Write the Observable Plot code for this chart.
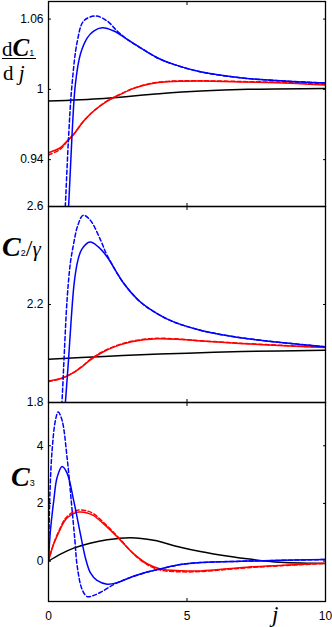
<!DOCTYPE html>
<html><head><meta charset="utf-8">
<script src="https://cdn.jsdelivr.net/npm/d3@7"></script>
<script src="https://cdn.jsdelivr.net/npm/@observablehq/plot@0.6"></script>
<style>
body{margin:0;background:#fff;}
#wrap{position:relative;width:332px;height:627px;overflow:hidden;background:#fff;}
.panel{position:absolute;left:0;}
.lab{position:absolute;font-family:"Liberation Serif","DejaVu Serif",serif;color:#000;white-space:nowrap;line-height:1;}
.cal{font-weight:bold;font-style:italic;}
.sub{font-family:"Liberation Sans",Arial,sans-serif;}
</style></head><body><div id="wrap"></div>
<script>
// ---- tick labels ----
const xTicks = [0, 5, 10];
const p1Ticks = [0.94, 1, 1.06];
const p2Ticks = [1.8, 2.2, 2.6];
const p3Ticks = [0, 2, 4];

// ---- panel 1: dC1/dj ----
const p1Black = [[0,0.990],[2,0.9922],[4,0.9962],[5.5,0.9985],[7.2,1.000],[10,1.0008]];
const p1Red = [[0,0.9459],[0.43,0.9502],[0.67,0.9559],[0.91,0.9616],[1.27,0.973],[1.63,0.9815],[2.12,0.99],[2.6,0.9957],[3.08,1.0008],[3.68,1.0048],[4.28,1.0065],[5.48,1.0071],[7.16,1.0062],[8.7,1.0052],[10,1.0037]];
const p1RedDash = [[0,0.944],[0.43,0.949],[0.67,0.9555],[0.91,0.9616],[1.27,0.973],[1.63,0.9815],[2.12,0.9902],[2.6,0.996],[3.08,1.001],[3.68,1.005],[4.28,1.0068],[5.48,1.0073],[7.16,1.0066],[8.7,1.0058],[10,1.0042]];
const p1Blue = [[0.5,0.80],[0.73,0.9018],[0.85,0.9616],[0.97,1.0043],[1.15,1.0299],[1.4,1.044],[1.63,1.0498],[1.94,1.0526],[2.36,1.0498],[2.84,1.0427],[3.32,1.0355],[3.92,1.027],[4.52,1.0213],[5.48,1.015],[6.92,1.0099],[8.5,1.0072],[10,1.0054]];
const p1BlueDash = [[0.4,0.80],[0.61,0.9018],[0.73,0.9616],[0.85,1.0043],[1.04,1.041],[1.27,1.0583],[1.7,1.0626],[2.12,1.0583],[2.48,1.0498],[2.84,1.0427],[3.32,1.0355],[3.92,1.027],[4.52,1.0213],[5.48,1.015],[6.92,1.0099],[8.5,1.0072],[10,1.0054]];

// ---- panel 2: C2/gamma ----
const p2Black = [[0,1.977],[2,1.988],[4,1.998],[5.5,2.003],[7,2.008],[10,2.013]];
const p2Red = [[0,1.888],[0.5,1.90],[0.9,1.922],[1.2,1.945],[1.5,1.973],[1.9,2.002],[2.4,2.028],[3.0,2.048],[3.9,2.06],[4.8,2.057],[5.5,2.051],[6.9,2.041],[8.5,2.032],[10,2.0245]];
const p2RedDash = [[0,1.886],[0.5,1.899],[0.9,1.922],[1.2,1.946],[1.5,1.975],[1.9,2.004],[2.4,2.03],[3.0,2.05],[3.9,2.062],[4.8,2.058],[5.5,2.052],[6.9,2.042],[8.5,2.033],[10,2.025]];
const p2Blue = [[0.45,1.55],[0.61,1.80],[0.72,1.97],[0.82,2.14],[0.93,2.29],[1.05,2.375],[1.2,2.425],[1.5,2.455],[1.8,2.435],[2.12,2.394],[2.72,2.286],[3.32,2.21],[3.92,2.163],[4.52,2.129],[5.48,2.095],[6.2,2.078],[7.65,2.054],[9.09,2.037],[10,2.027]];
const p2BlueDash = [[0.35,1.55],[0.49,1.81],[0.57,2.0],[0.67,2.218],[0.79,2.37],[0.91,2.449],[1.05,2.52],[1.25,2.564],[1.51,2.544],[1.88,2.463],[2.12,2.40],[2.72,2.286],[3.32,2.21],[3.92,2.163],[4.52,2.129],[5.48,2.095],[6.2,2.078],[7.65,2.054],[9.09,2.037],[10,2.027]];

// ---- panel 3: C3 ----
const p3Black = [[0,0],[0.45,0.25],[0.91,0.45],[1.5,0.62],[2.12,0.74],[2.96,0.81],[3.8,0.72],[4.76,0.48],[5.48,0.33],[5.96,0.25],[7.17,0.08],[8.37,-0.04],[9.33,-0.07],[10,-0.08]];
const p3Red = [[0,0],[0.19,0.6],[0.43,1.12],[0.6,1.42],[0.85,1.62],[1.09,1.70],[1.4,1.67],[1.63,1.58],[2.12,1.18],[2.6,0.72],[3.08,0.25],[3.56,-0.09],[4.04,-0.27],[4.76,-0.33],[5.5,-0.34],[7.16,-0.21],[10,-0.07]];
const p3RedDash = [[0,0],[0.19,0.62],[0.43,1.16],[0.6,1.47],[0.85,1.68],[1.09,1.77],[1.4,1.74],[1.63,1.64],[2.12,1.22],[2.6,0.74],[3.08,0.24],[3.56,-0.12],[4.04,-0.31],[4.76,-0.37],[5.5,-0.36],[7.16,-0.23],[10,-0.08]];
const p3Blue = [[0,0],[0.07,1.06],[0.19,2.1],[0.31,2.9],[0.49,3.28],[0.67,3.05],[0.91,2.1],[1.15,0.95],[1.35,0.05],[1.52,-0.42],[1.75,-0.67],[2.12,-0.8],[2.5,-0.74],[2.84,-0.61],[3.56,-0.38],[4.04,-0.27],[4.76,-0.12],[5.5,-0.05],[7.16,0.0],[10,0.055]];
const p3BlueDash = [[0,0],[0.05,2.3],[0.13,3.84],[0.25,4.88],[0.35,5.17],[0.49,4.88],[0.67,3.6],[0.83,2.0],[0.95,0.75],[1.04,-0.2],[1.22,-1.0],[1.4,-1.23],[1.6,-1.2],[1.88,-1.08],[2.36,-0.81],[2.84,-0.61],[3.56,-0.38],[4.04,-0.27],[4.76,-0.12],[5.5,-0.05],[7.16,0.0],[10,0.055]];

const BLUE = "#0000ff", RED = "#ff0000", BLACK = "#000000";
const SW = 1.5, DASH = "4,2.5";

function series(data, color, dashed) {
  return Plot.line(data, {x: d => d[0], y: d => d[1], stroke: color, strokeWidth: SW,
    strokeDasharray: dashed ? DASH : null, curve: "catmull-rom", clip: true});
}

function panel({yDomain, yTicks, lines, height, mt, mb, xLabels}) {
  const marks = [
    ...lines,
    Plot.frame({stroke: "black", strokeWidth: 1.3}),
    Plot.axisY(yTicks, {anchor: "left", tickSize: -3, fill: "none", label: null}),
    Plot.axisY(yTicks, {anchor: "right", tickSize: -3, fill: "none", label: null}),
    Plot.axisY(yTicks, {anchor: "left", tickSize: 0, tickPadding: 5, label: null, tickFormat: d => String(d)}),
    Plot.axisX(xTicks, {anchor: "top", tickSize: -3, fill: "none", label: null}),
    Plot.axisX(xTicks, {anchor: "bottom", tickSize: -3, fill: "none", label: null})
  ];
  if (xLabels) marks.push(Plot.axisX(xTicks, {anchor: "bottom", tickSize: 0, tickPadding: 10, label: null, tickFormat: d => String(d)}));
  return Plot.plot({
    width: 332, height,
    marginLeft: 48, marginRight: 7, marginTop: mt, marginBottom: mb,
    x: {domain: [0, 10]},
    y: {domain: yDomain},
    style: {background: "transparent", overflow: "visible", fontSize: "12px",
      fontFamily: "'Liberation Sans', Arial, sans-serif", color: "black"},
    marks
  });
}

const wrap = document.getElementById("wrap");
function place(svg, top) { svg.classList.add("panel"); svg.style.top = top + "px"; wrap.appendChild(svg); }

place(panel({yDomain: [0.9, 1.075], yTicks: p1Ticks, height: 206, mt: 1, mb: 0,
  lines: [series(p1Black, BLACK), series(p1Red, RED), series(p1RedDash, RED, true), series(p1Blue, BLUE), series(p1BlueDash, BLUE, true)]}), 0);
place(panel({yDomain: [1.8, 2.6], yTicks: p2Ticks, height: 196, mt: 0, mb: 0,
  lines: [series(p2Black, BLACK), series(p2Red, RED), series(p2RedDash, RED, true), series(p2Blue, BLUE), series(p2BlueDash, BLUE, true)]}), 206);
place(panel({yDomain: [-1.4, 5.5], yTicks: p3Ticks, height: 225, mt: 0, mb: 26, xLabels: true,
  lines: [series(p3Black, BLACK), series(p3Red, RED), series(p3RedDash, RED, true), series(p3Blue, BLUE), series(p3BlueDash, BLUE, true)]}), 402);

// ---- axis labels (HTML text) ----
function lab(html, left, top) {
  const d = document.createElement("div");
  d.className = "lab"; d.innerHTML = html;
  d.style.left = left + "px"; d.style.top = top + "px";
  wrap.appendChild(d); return d;
}
lab('<span style="font-size:21px">d</span><span class="cal" style="font-size:25px">C</span><span class="sub" style="font-size:9px">1</span>', 2, 35);
const bar = document.createElement("div");
bar.style.cssText = "position:absolute;left:2px;top:58px;width:34px;height:1.4px;background:#000;";
wrap.appendChild(bar);
lab('<span style="font-size:21px">d</span><span style="font-size:21px;font-style:italic"> j</span>', 3, 63);
lab('<span class="cal" style="font-size:28px">C</span><span class="sub" style="font-size:9px">2</span><span style="font-size:24px">/</span><span style="font-size:21px;font-style:italic">γ</span>', 2, 233);
lab('<span class="cal" style="font-size:28px">C</span><span class="sub" style="font-size:9px">3</span>', 11, 463);
lab('<span style="font-size:23px;font-style:italic">j</span>', 272, 603);
</script></body></html>
